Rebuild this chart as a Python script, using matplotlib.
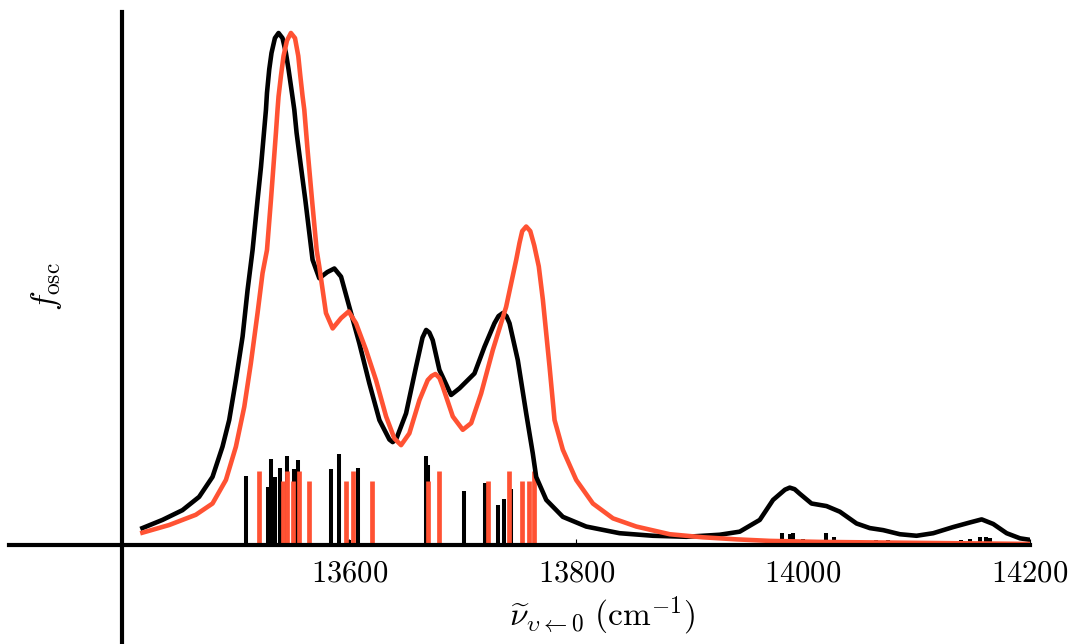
#!/usr/bin/env python3
"""
Espectro vibronico: curvas alargadas e linhas (sticks) de f_osc.
"""
from __future__ import annotations

import matplotlib

matplotlib.use("Agg")
import matplotlib.pyplot as plt

# Curva preta (espectro alargado)
black_x = [
    13417.6, 13435.3, 13452.9, 13467.6, 13479.4, 13488.2, 13494.1, 13500.0, 13505.9, 13510.3,
    13514.7, 13519.1, 13522.1, 13526.5, 13527.4, 13529.4, 13531.4, 13534.4, 13537.6, 13541.1,
    13544.1, 13546.4, 13549.4, 13551.5, 13553.5, 13557.4, 13561.2, 13567.6, 13573.5, 13580.6,
    13586.8, 13592.7, 13600.0, 13608.8, 13617.6, 13626.5, 13635.3, 13638.2, 13641.2, 13650.0,
    13658.8, 13664.5, 13667.7, 13670.5, 13673.5, 13679.4, 13689.7, 13697.1, 13710.3, 13719.1,
    13727.9, 13731.5, 13735.3, 13738.5, 13741.2, 13748.5, 13755.9, 13761.7, 13764.7, 13773.6,
    13788.2, 13808.8, 13838.2, 13867.6, 13897.1, 13926.5, 13944.1, 13961.8, 13973.5, 13984.0,
    13988.2, 13992.5, 13997.1, 14007.4, 14020.6, 14032.4, 14047.1, 14058.8, 14070.6, 14085.3,
    14100.0, 14114.7, 14132.3, 14147.1, 14157.4, 14167.6, 14179.4, 14191.2, 14200.0,
]
black_y = [
    0.033, 0.049, 0.068, 0.094, 0.133, 0.192, 0.244, 0.322, 0.407, 0.498,
    0.576, 0.674, 0.738, 0.850, 0.883, 0.929, 0.961, 0.990, 1.000, 0.990,
    0.961, 0.929, 0.883, 0.850, 0.805, 0.738, 0.674, 0.557, 0.521, 0.533,
    0.540, 0.524, 0.465, 0.394, 0.316, 0.244, 0.206, 0.201, 0.206, 0.257,
    0.348, 0.405, 0.420, 0.415, 0.400, 0.342, 0.293, 0.306, 0.335, 0.387,
    0.433, 0.447, 0.453, 0.447, 0.433, 0.361, 0.257, 0.179, 0.133, 0.088,
    0.055, 0.036, 0.023, 0.018, 0.016, 0.020, 0.026, 0.049, 0.088, 0.108,
    0.112, 0.109, 0.100, 0.081, 0.076, 0.065, 0.042, 0.033, 0.029, 0.021,
    0.018, 0.023, 0.035, 0.044, 0.050, 0.041, 0.023, 0.013, 0.010,
]

# Curva vermelha (espectro alargado)
red_x = [
    13417.6, 13441.2, 13464.7, 13479.4, 13491.2, 13500.0, 13507.4, 13513.2, 13519.1, 13523.5,
    13527.4, 13530.9, 13535.3, 13536.7, 13537.6, 13539.7, 13542.0, 13545.0, 13548.5, 13552.1,
    13555.0, 13556.8, 13558.8, 13560.3, 13563.2, 13567.1, 13571.2, 13573.5, 13579.4, 13585.3,
    13592.7, 13599.4, 13605.9, 13614.7, 13623.5, 13632.4, 13639.7, 13645.6, 13652.9, 13661.8,
    13669.1, 13672.5, 13675.9, 13679.5, 13682.4, 13691.2, 13700.0, 13707.4, 13716.2, 13726.5,
    13738.2, 13747.1, 13750.0, 13752.4, 13755.9, 13759.5, 13763.0, 13767.0, 13770.6, 13776.5,
    13780.9, 13788.2, 13800.0, 13814.7, 13832.4, 13853.0, 13882.4, 13911.8, 13941.2, 13970.6,
    14014.7, 14200.0,
]
red_y = [
    0.024, 0.039, 0.059, 0.081, 0.127, 0.192, 0.270, 0.355, 0.453, 0.531,
    0.576, 0.674, 0.805, 0.850, 0.876, 0.916, 0.955, 0.985, 1.000, 0.990,
    0.955, 0.916, 0.876, 0.850, 0.771, 0.674, 0.576, 0.544, 0.453, 0.423,
    0.443, 0.456, 0.433, 0.381, 0.322, 0.251, 0.208, 0.195, 0.218, 0.283,
    0.322, 0.330, 0.334, 0.326, 0.309, 0.251, 0.225, 0.238, 0.296, 0.381,
    0.465, 0.557, 0.590, 0.613, 0.622, 0.613, 0.585, 0.544, 0.479, 0.348,
    0.244, 0.186, 0.127, 0.081, 0.052, 0.036, 0.021, 0.015, 0.011, 0.008,
    0.006, 0.002,
]

# Linhas (sticks)
black_stick_x = [
    13508.5, 13528.5, 13531.2, 13534.1, 13539.1, 13544.7, 13551.2, 13555.0, 13583.5, 13591.2,
    13600.0, 13607.7, 13667.3, 13669.7, 13701.5, 13719.4, 13731.2, 13736.5, 13742.7,
    13981.5, 13988.7, 13990.9, 13999.7, 14020.0, 14027.0, 14064.0, 14075.0, 14124.0, 14139.0,
    14147.0, 14156.0, 14161.0, 14165.0,
]
black_stick_h = [
    0.134, 0.113, 0.168, 0.132, 0.150, 0.174, 0.148, 0.166, 0.148, 0.177,
    0.010, 0.151, 0.174, 0.156, 0.106, 0.121, 0.079, 0.089, 0.109,
    0.024, 0.021, 0.024, 0.012, 0.023, 0.016, 0.010, 0.010, 0.008, 0.010,
    0.012, 0.016, 0.016, 0.014,
]
red_stick_x = [
    13520.6, 13541.8, 13545.3, 13550.0, 13555.9, 13564.1, 13597.1, 13602.9, 13620.0, 13669.4,
    13679.4, 13721.8, 13740.9, 13751.8, 13758.2, 13762.4,
]
red_stick_h = [
    0.145, 0.125, 0.145, 0.125, 0.145, 0.125, 0.125, 0.145, 0.125, 0.125,
    0.145, 0.125, 0.145, 0.125, 0.125, 0.145,
]

x_ticks = [13600, 13800, 14000, 14200]

RED = "#ff5233"


def main() -> None:
    plt.rcParams["mathtext.fontset"] = "cm"
    plt.rcParams["font.family"] = "serif"

    fig = plt.figure(figsize=(10.69, 6.44), dpi=100)
    ax = fig.add_axes([9 / 1069, 0.0, 1021 / 1069, 632 / 644])

    ax.vlines(black_stick_x, 0, black_stick_h, colors="black", lw=2.9, zorder=2)
    ax.vlines(red_stick_x, 0, red_stick_h, colors=RED, lw=3.4, zorder=3)
    ax.plot(black_x, black_y, color="black", lw=3.3, zorder=4, solid_joinstyle="round")
    ax.plot(red_x, red_y, color=RED, lw=3.3, zorder=5, solid_joinstyle="round")

    ax.set_xlim(13300, 14200)
    ax.set_ylim(-0.1934, 1.041)

    # Eixos cruzando: esquerdo em 13400, inferior em zero
    ax.spines["left"].set_position(("data", 13400))
    ax.spines["bottom"].set_position(("data", 0))
    ax.spines["top"].set_visible(False)
    ax.spines["right"].set_visible(False)
    ax.spines["left"].set_linewidth(3)
    ax.spines["bottom"].set_linewidth(3)
    ax.spines["bottom"].set_zorder(6)

    ax.set_yticks([])
    ax.set_xticks(x_ticks)
    ax.set_xticklabels([f"${t}$" for t in x_ticks])
    ax.tick_params(axis="x", direction="in", length=4, width=0.8, pad=9, labelsize=22)

    ax.set_xlabel(r"$\widetilde{\nu}_{\upsilon\leftarrow0}\ (\mathrm{cm}^{-1})$", fontsize=24)
    ax.xaxis.set_label_coords(0.581, 0.078)
    ax.set_ylabel(r"$f_\mathrm{osc}$", fontsize=24, va="center")
    ax.yaxis.set_label_coords(0.037, 0.565)

    fig.savefig("out.png", dpi=100)
    plt.close(fig)


if __name__ == "__main__":
    main()
